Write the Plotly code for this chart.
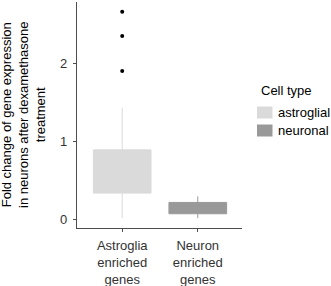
import plotly.graph_objects as go

categories = ["Astroglia<br>enriched<br>genes", "Neuron<br>enriched<br>genes"]
cell_types = ["astroglial", "neuronal"]
q1 = [0.342, 0.077]
median = [0.55, 0.15]
q3 = [0.897, 0.222]
lower = [0.02, 0.02]
upper = [1.44, 0.30]
outliers_astro = [1.91, 2.36, 2.67]
colors = ["#dadada", "#999999"]
y_ticks = [0, 1, 2]
legend_title = "Cell type"
y_title = "Fold change of gene expression<br>in neurons after dexamethasone<br>treatment"

xpos = [0, 1]

# plot area in pixels
W, H = 331, 286
L, R, T, B = 77, 242, 2, 228

fig = go.Figure()
for i in range(2):
    fig.add_trace(go.Box(
        x=[xpos[i]], q1=[q1[i]], median=[median[i]], q3=[q3[i]],
        lowerfence=[lower[i]], upperfence=[upper[i]],
        fillcolor=colors[i], line=dict(color=colors[i], width=1),
        whiskerwidth=0, width=0.763, showlegend=False, boxpoints=False,
        name=cell_types[i],
    ))
fig.add_trace(go.Scatter(
    x=[xpos[0]] * len(outliers_astro), y=outliers_astro, mode="markers",
    marker=dict(color="black", size=4), showlegend=False, hoverinfo="y",
))

def px_x(p):
    return (p - L) / (R - L)

def px_y(p):
    return (B - p) / (B - T)

text_color = "#000000"
tick_color = "#333333"

annotations = [
    dict(text=y_title, xref="paper", yref="paper", x=px_x(23), y=0.5,
         xanchor="center", yanchor="middle", textangle=-90, showarrow=False,
         font=dict(size=13, color=text_color)),
    dict(text=legend_title, xref="paper", yref="paper", x=px_x(259), y=px_y(90),
         xanchor="left", yanchor="middle", showarrow=False,
         font=dict(size=13, color=text_color)),
]
shapes = []
key_y = [112.5, 130.5]
for i in range(2):
    shapes.append(dict(type="rect", xref="paper", yref="paper",
                       x0=px_x(257), x1=px_x(272.5),
                       y0=px_y(key_y[i] - 6), y1=px_y(key_y[i] + 6),
                       fillcolor=colors[i], line=dict(width=0)))
    annotations.append(dict(text=cell_types[i], xref="paper", yref="paper",
                            x=px_x(276), y=px_y(key_y[i]),
                            xanchor="left", yanchor="middle", showarrow=False,
                            font=dict(size=13, color=text_color)))

fig.update_layout(
    width=W, height=H,
    margin=dict(l=L, r=W - R, t=T, b=H - B, autoexpand=False),
    plot_bgcolor="white", paper_bgcolor="white",
    font=dict(family="Liberation Sans, Arial, sans-serif", size=13, color=text_color),
    showlegend=False,
    annotations=annotations,
    shapes=shapes,
    xaxis=dict(
        range=[-0.598, 1.585], tickvals=xpos, ticktext=categories,
        showline=True, linecolor="#4d4d4d", linewidth=1.2,
        ticks="outside", ticklen=3, tickcolor="#4d4d4d", tickwidth=1,
        showgrid=False, zeroline=False, automargin=False,
        ticklabelstandoff=2,
        tickfont=dict(size=13, color=tick_color),
    ),
    yaxis=dict(
        range=[-0.106, 2.795], tickvals=y_ticks,
        showline=True, linecolor="#4d4d4d", linewidth=1.2,
        ticks="outside", ticklen=3, tickcolor="#4d4d4d", tickwidth=1,
        showgrid=False, zeroline=False, automargin=False,
        ticklabelstandoff=3,
        tickfont=dict(size=13, color=tick_color),
    ),
)

fig.write_html("out.html",
               config={"displayModeBar": False},
               post_script="document.body.style.margin='0';document.body.style.overflow='hidden';")
